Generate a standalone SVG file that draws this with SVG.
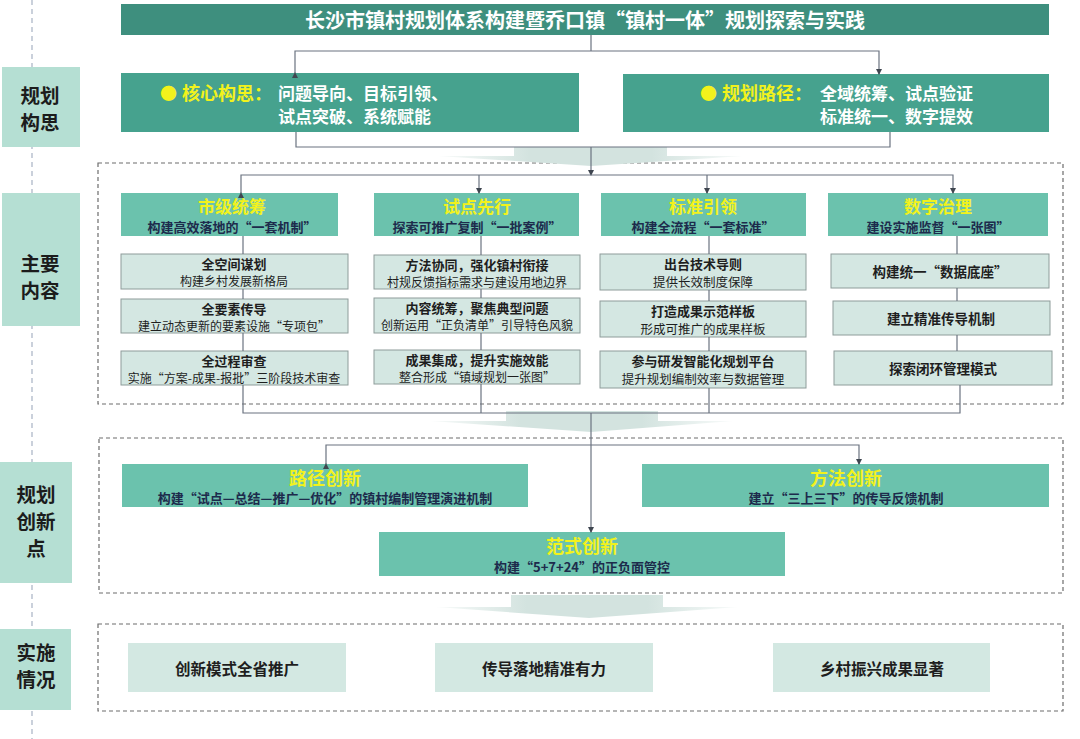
<svg xmlns="http://www.w3.org/2000/svg" width="1080" height="739" viewBox="0 0 1080 739">
<style>
text{font-family:"Noto Sans CJK SC","Noto Sans",sans-serif;dominant-baseline:central}
.c{text-anchor:middle}
.b{font-weight:bold}
.lbl{fill:#b5dfd3}
.lbltx{font-size:19.5px;font-weight:bold;fill:#1c1c1c;text-anchor:middle}
.title{fill:#3e8f7e}
.core{fill:#46a28e}
.hd{fill:#6bc2ad}
.sub{fill:#d4e7e2;stroke:#8e9c9a;stroke-width:1}
.imp{fill:#d3e8e2}
.yl{fill:#f2f21c;font-weight:bold}
.wt{fill:#ffffff;font-weight:bold}
.nv{fill:#1d2b4c;font-weight:bold}
.dk{fill:#1e1e1e}
.dash{fill:none;stroke:#6d6d6d;stroke-width:1.2;stroke-dasharray:4 3}
.ln{fill:none;stroke:#6b7380;stroke-width:1.2}
.fat{fill:url(#fg)}
</style>
<defs>
<marker id="ah" viewBox="0 0 6 6" refX="5" refY="3" markerWidth="6" markerHeight="6" orient="auto" markerUnits="userSpaceOnUse">
<path d="M0,0 L6,3 L0,6 z" fill="#3f4650"/>
</marker>
<linearGradient id="fg" x1="0" y1="0" x2="1" y2="0">
<stop offset="0" stop-color="#d3e3df" stop-opacity="0.15"/>
<stop offset="0.3" stop-color="#d3e3df" stop-opacity="1"/>
<stop offset="0.7" stop-color="#d3e3df" stop-opacity="1"/>
<stop offset="1" stop-color="#d3e3df" stop-opacity="0.15"/>
</linearGradient>
</defs>
<rect width="1080" height="739" fill="#ffffff"/>

<!-- left axis -->
<line x1="32" y1="0" x2="32" y2="739" stroke="#a7b2c4" stroke-width="1.2" stroke-dasharray="5 4"/>

<g id="label-1"><rect class="lbl" x="2" y="67" width="78" height="80"/><text class="lbltx" x="40" y="94">规划</text><text class="lbltx" x="40" y="121">构思</text></g>
<g id="label-2"><rect class="lbl" x="2" y="193" width="78" height="133"/><text class="lbltx" x="40" y="262">主要</text><text class="lbltx" x="40" y="289">内容</text></g>
<g id="label-3"><rect class="lbl" x="0" y="462" width="72" height="121"/><text class="lbltx" x="36" y="493">规划</text><text class="lbltx" x="36" y="520">创新</text><text class="lbltx" x="36" y="547">点</text></g>
<g id="label-4"><rect class="lbl" x="0" y="629" width="71" height="81"/><text class="lbltx" x="36" y="651">实施</text><text class="lbltx" x="36" y="678">情况</text></g>

<!-- dashed section frames -->
<rect class="dash" x="98" y="163" width="965" height="241"/>
<rect class="dash" x="99" y="438" width="964" height="155"/>
<rect class="dash" x="98" y="624" width="965" height="87"/>

<!-- fat arrows -->
<polygon class="fat" points="438,156 514,156 514,147 667,147 667,156 743,156 591,166"/>
<polygon class="fat" points="430,421 506,421 506,411 658,411 658,421 733,421 591,432"/>
<polygon class="fat" points="436,607 511,607 511,595 663,595 663,607 738,607 589,618"/>

<g id="title"><rect class="title" x="121" y="4" width="928" height="31"/><text class="wt c" x="585" y="19.5" font-size="20">长沙市镇村规划体系构建暨乔口镇“镇村一体”规划探索与实践</text></g>

<g id="core-idea"><rect class="core" x="121" y="73" width="458" height="59"/>
<text class="yl" x="160" y="92" font-size="17">●</text>
<text class="yl" x="182" y="92" font-size="18">核心构思：</text>
<text class="wt" x="278" y="92" font-size="17">问题导向、目标引领、</text>
<text class="wt" x="278" y="115" font-size="17">试点突破、系统赋能</text></g>

<g id="core-path"><rect class="core" x="623" y="74" width="426" height="58"/>
<text class="yl" x="700" y="92" font-size="17">●</text>
<text class="yl" x="722" y="92" font-size="18">规划路径：</text>
<text class="wt" x="820" y="92" font-size="17">全域统筹、试点验证</text>
<text class="wt" x="820" y="115" font-size="17">标准统一、数字提效</text></g>

<!-- column 1 -->
<g id="col1">
<rect class="hd" x="121" y="193" width="217" height="43"/>
<text class="yl c" x="232" y="205" font-size="17">市级统筹</text>
<text class="nv c" x="232" y="226" font-size="13">构建高效落地的“一套机制”</text>
<g id="col1-a"><rect class="sub" x="121" y="254" width="227" height="35"/><text class="b c dk" x="234" y="263.5" font-size="13">全空间谋划</text><text class="c dk" x="234" y="280.5" font-size="12">构建乡村发展新格局</text></g>
<g id="col1-b"><rect class="sub" x="121" y="299" width="227" height="34"/><text class="b c dk" x="234" y="308.5" font-size="13">全要素传导</text><text class="c dk" x="234" y="325" font-size="12">建立动态更新的要素设施“专项包”</text></g>
<g id="col1-c"><rect class="sub" x="121" y="351" width="227" height="34"/><text class="b c dk" x="234" y="360.5" font-size="13">全过程审查</text><text class="c dk" x="234" y="377" font-size="12">实施“方案-成果-报批”三阶段技术审查</text></g>
</g>

<!-- column 2 -->
<g id="col2">
<rect class="hd" x="374" y="193" width="205" height="43"/>
<text class="yl c" x="477" y="205" font-size="17">试点先行</text>
<text class="nv c" x="477" y="226" font-size="13">探索可推广复制“一批案例”</text>
<g id="col2-a"><rect class="sub" x="374" y="255" width="206" height="34"/><text class="b c dk" x="477" y="264" font-size="13">方法协同，强化镇村衔接</text><text class="c dk" x="477" y="281" font-size="12">村规反馈指标需求与建设用地边界</text></g>
<g id="col2-b"><rect class="sub" x="374" y="298" width="206" height="35"/><text class="b c dk" x="477" y="307.5" font-size="13">内容统筹，聚焦典型问题</text><text class="c dk" x="477" y="324.5" font-size="12">创新运用“正负清单”引导特色风貌</text></g>
<g id="col2-c"><rect class="sub" x="374" y="350" width="206" height="34"/><text class="b c dk" x="477" y="359.5" font-size="13">成果集成，提升实施效能</text><text class="c dk" x="477" y="376" font-size="12">整合形成“镇域规划一张图”</text></g>
</g>

<!-- column 3 -->
<g id="col3">
<rect class="hd" x="601" y="193" width="205" height="43"/>
<text class="yl c" x="703" y="205" font-size="17">标准引领</text>
<text class="nv c" x="703" y="226" font-size="13">构建全流程“一套标准”</text>
<g id="col3-a"><rect class="sub" x="600" y="254" width="206" height="36"/><text class="b c dk" x="703" y="263.5" font-size="13">出台技术导则</text><text class="c dk" x="703" y="281" font-size="12.5">提供长效制度保障</text></g>
<g id="col3-b"><rect class="sub" x="600" y="301" width="206" height="36"/><text class="b c dk" x="703" y="310.5" font-size="13">打造成果示范样板</text><text class="c dk" x="703" y="328" font-size="12.5">形成可推广的成果样板</text></g>
<g id="col3-c"><rect class="sub" x="600" y="351" width="206" height="37"/><text class="b c dk" x="703" y="360.5" font-size="13">参与研发智能化规划平台</text><text class="c dk" x="703" y="378.5" font-size="12.5">提升规划编制效率与数据管理</text></g>
</g>

<!-- column 4 -->
<g id="col4">
<rect class="hd" x="828" y="193" width="220" height="43"/>
<text class="yl c" x="938" y="205" font-size="17">数字治理</text>
<text class="nv c" x="938" y="226" font-size="13">建设实施监督“一张图”</text>
<g id="col4-a"><rect class="sub" x="831" y="254" width="218" height="34"/><text class="b c dk" x="940" y="271" font-size="13.5">构建统一“数据底座”</text></g>
<g id="col4-b"><rect class="sub" x="833" y="301" width="217" height="34"/><text class="b c dk" x="941" y="318" font-size="13.5">建立精准传导机制</text></g>
<g id="col4-c"><rect class="sub" x="834" y="351" width="218" height="34"/><text class="b c dk" x="943" y="368" font-size="13.5">探索闭环管理模式</text></g>
</g>

<!-- innovation -->
<g id="inn-path"><rect class="hd" x="122" y="464" width="406" height="43"/>
<text class="yl c" x="325" y="477" font-size="18">路径创新</text>
<text class="nv c" x="325" y="497.5" font-size="13">构建“试点—总结—推广—优化”的镇村编制管理演进机制</text></g>
<g id="inn-method"><rect class="hd" x="642" y="464" width="407" height="43"/>
<text class="yl c" x="846" y="477" font-size="18">方法创新</text>
<text class="nv c" x="846" y="497.5" font-size="13">建立“三上三下”的传导反馈机制</text></g>
<g id="inn-paradigm"><rect class="hd" x="379" y="532" width="406" height="44"/>
<text class="yl c" x="582" y="545" font-size="18">范式创新</text>
<text class="nv c" x="582" y="566" font-size="13">构建“5+7+24”的正负面管控</text></g>

<!-- implementation -->
<g id="imp-1"><rect class="imp" x="128" y="643" width="218" height="49"/><text class="b c dk" x="237" y="668" font-size="15.5">创新模式全省推广</text></g>
<g id="imp-2"><rect class="imp" x="435" y="643" width="218" height="49"/><text class="b c dk" x="544" y="668" font-size="15.5">传导落地精准有力</text></g>
<g id="imp-3"><rect class="imp" x="773" y="643" width="217" height="49"/><text class="b c dk" x="882" y="668" font-size="15.5">乡村振兴成果显著</text></g>

<!-- connectors -->
<g id="connectors">
<polyline class="ln" points="591,35 591,51"/>
<polyline class="ln" points="295,73 295,51 879,51 879,74" marker-start="url(#ah)" marker-end="url(#ah)"/>
<polyline class="ln" points="296,132 296,147 890,147 890,132"/>
<polyline class="ln" points="591,147 591,175" marker-end="url(#ah)"/>
<polyline class="ln" points="241,193 241,175 953,175 953,193" marker-start="url(#ah)" marker-end="url(#ah)"/>
<polyline class="ln" points="479,175 479,193" marker-end="url(#ah)"/>
<polyline class="ln" points="707,175 707,193" marker-end="url(#ah)"/>
<polyline class="ln" points="243,236 243,254"/><polyline class="ln" points="243,289 243,299"/><polyline class="ln" points="243,333 243,351"/>
<polyline class="ln" points="481,236 481,255"/><polyline class="ln" points="481,289 481,298"/><polyline class="ln" points="481,333 481,350"/>
<polyline class="ln" points="709,236 709,254"/><polyline class="ln" points="709,290 709,301"/><polyline class="ln" points="709,337 709,351"/>
<polyline class="ln" points="957,236 957,254"/><polyline class="ln" points="957,288 957,301"/><polyline class="ln" points="957,335 957,351"/>
<polyline class="ln" points="243,385 243,413 960,413 960,385"/>
<polyline class="ln" points="481,384 481,413"/>
<polyline class="ln" points="709,388 709,413"/>
<polyline class="ln" points="591,413 591,532" marker-end="url(#ah)"/>
<polyline class="ln" points="326,464 326,445 859,445 859,464" marker-start="url(#ah)" marker-end="url(#ah)"/>
</g>
</svg>
